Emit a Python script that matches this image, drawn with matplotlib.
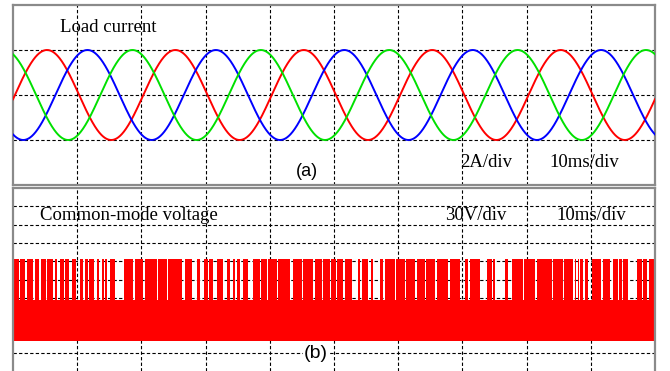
import numpy as np
import matplotlib.pyplot as plt

# ---- (a) load current (ms, div) ----
period_ms = 20.0
amp_div = 1.0
red_peak_ms = 5.3
blue_peak_ms = 11.6
green_peak_ms = 18.6

# ---- (b) common-mode voltage levels (div) ----
cmv_high = 1.1
cmv_mid = -1.1
cmv_low = -3.35

# intervals (ms) where the CMV reaches the upper level
cmv_top_start = [0.16, 1.09, 2.23, 3.43, 4.31, 5.34, 6.59, 7.32, 8.15, 9.14,
                 10.44, 11.21, 11.88, 13.04, 13.82, 14.33, 15.11, 17.29, 18.96, 20.56,
                 22.63, 24.19, 26.79, 28.61, 29.75, 30.58, 31.73, 33.29, 34.22, 34.84,
                 35.87, 37.43, 38.68, 39.77, 41.32, 43.57, 45.22, 47.04, 48.33, 49.53,
                 50.47, 51.71, 53.69, 54.31, 55.76, 57.16, 57.94, 59.66, 61.26, 62.88,
                 64.38, 66.00, 68.07, 70.40, 71.18, 73.78, 74.81, 76.63, 77.68, 79.64,
                 81.57, 84.16, 85.87, 87.54, 88.00, 88.32, 89.10, 90.19, 91.90, 93.46,
                 94.39, 95.02, 97.20, 98.13, 99.07]
cmv_top_end = [0.89, 1.87, 3.07, 4.10, 5.14, 6.28, 6.90, 7.94, 8.77, 9.81,
               10.86, 11.73, 12.62, 13.35, 14.17, 14.69, 15.89, 18.74, 20.30, 22.38,
               23.94, 26.28, 27.83, 29.13, 30.42, 31.20, 32.66, 33.80, 34.58, 35.36,
               36.65, 38.47, 39.52, 41.07, 43.15, 44.97, 46.78, 48.08, 49.38, 50.31,
               51.44, 52.76, 54.05, 55.34, 56.12, 57.68, 59.50, 61.06, 62.62, 64.17,
               65.73, 67.80, 69.63, 70.92, 72.74, 74.56, 75.08, 77.15, 79.48, 81.31,
               83.91, 85.71, 87.27, 87.69, 88.16, 88.79, 89.56, 91.59, 92.99, 94.24,
               94.86, 95.80, 97.98, 98.75, 100.0]

W, H = 670, 371
fig = plt.figure(figsize=(W / 100, H / 100), dpi=100)

def frame(ax, ylo, yhi, hgrid):
    ax.set_xlim(0, 100)
    ax.set_ylim(ylo, yhi)
    ax.set_xticks([])
    ax.set_yticks([])
    for x in range(10, 100, 10):
        ax.axvline(x, color='black', lw=0.8, ls=(0, (3, 2)), zorder=1)
    for y in hgrid:
        ax.axhline(y, color='black', lw=0.8, ls=(0, (3, 2)), zorder=1)
    for s in ax.spines.values():
        s.set_color('#8a8a8a')
        s.set_linewidth(1.6)

# top panel
ax1 = fig.add_axes([13 / W, (H - 185) / H, 642 / W, 180 / H])
frame(ax1, -2, 2, [-1, 0, 1])
t = np.linspace(0, 100, 3001)
for peak, col in [(red_peak_ms, '#ff0000'), (blue_peak_ms, '#0000ff'),
                  (green_peak_ms, '#00e000')]:
    ax1.plot(t, amp_div * np.cos(2 * np.pi * (t - peak) / period_ms),
             color=col, lw=1.4, zorder=3)
ax1.text(7.3, 1.51, 'Load current', fontsize=13.5, family='Liberation Serif',
         va='center', ha='left')
ax1.text(45.8, -1.69, '(a)', fontsize=13, family='Liberation Sans',
         va='center', ha='center')
ax1.text(69.6, -1.51, '2A/div', fontsize=13.5, family='Liberation Serif',
         va='center', ha='left')
ax1.text(83.6, -1.51, '10ms/div', fontsize=13.5, family='Liberation Serif',
         va='center', ha='left')

# bottom panel
ax2 = fig.add_axes([13 / W, 0, 642 / W, 183 / H])
frame(ax2, -5, 5, range(-4, 5))
ax2.spines['bottom'].set_visible(False)
ax2.fill_between([0, 100], cmv_low, cmv_mid, color='#ff0000', lw=0, zorder=2)
widths = np.array(cmv_top_end) - np.array(cmv_top_start)
ax2.bar(cmv_top_start, cmv_high - cmv_mid, width=widths, bottom=cmv_mid,
        align='edge', color='#ff0000', lw=0, zorder=2)
ax2.text(4.2, 3.52, 'Common-mode voltage', fontsize=13.5, family='Liberation Serif',
         va='center', ha='left')
ax2.text(67.3, 3.52, '30V/div', fontsize=13.5, family='Liberation Serif',
         va='center', ha='left')
ax2.text(84.7, 3.52, '10ms/div', fontsize=13.5, family='Liberation Serif',
         va='center', ha='left')
ax2.text(47.2, -4.02, '(b)', fontsize=14, family='Liberation Sans',
         va='center', ha='center',
         bbox=dict(facecolor='white', edgecolor='none', pad=0.5))

fig.savefig('out.png', dpi=100)
